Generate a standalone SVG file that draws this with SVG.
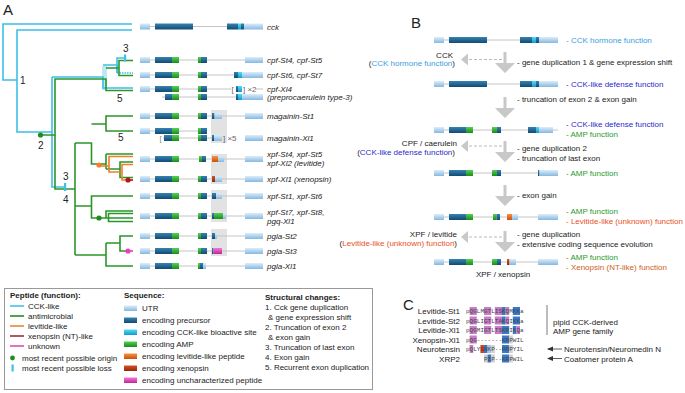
<svg xmlns="http://www.w3.org/2000/svg" width="685" height="393" viewBox="0 0 685 393">
<defs>
<linearGradient id="gU" x1="0" y1="0" x2="0" y2="1"><stop offset="0" stop-color="#dcedfa"/><stop offset="1" stop-color="#86b8e0"/></linearGradient>
<linearGradient id="gP" x1="0" y1="0" x2="0" y2="1"><stop offset="0" stop-color="#3583b4"/><stop offset="1" stop-color="#134a70"/></linearGradient>
<linearGradient id="gC" x1="0" y1="0" x2="0" y2="1"><stop offset="0" stop-color="#5ad8f8"/><stop offset="1" stop-color="#0e9cd0"/></linearGradient>
<linearGradient id="gA" x1="0" y1="0" x2="0" y2="1"><stop offset="0" stop-color="#55d055"/><stop offset="1" stop-color="#1a8c1a"/></linearGradient>
<linearGradient id="gL" x1="0" y1="0" x2="0" y2="1"><stop offset="0" stop-color="#f89040"/><stop offset="1" stop-color="#cc500c"/></linearGradient>
<linearGradient id="gX" x1="0" y1="0" x2="0" y2="1"><stop offset="0" stop-color="#d45428"/><stop offset="1" stop-color="#962608"/></linearGradient>
<linearGradient id="gM" x1="0" y1="0" x2="0" y2="1"><stop offset="0" stop-color="#f476dc"/><stop offset="1" stop-color="#c42696"/></linearGradient>
<path id="dn" d="M-1.5,0 H1.5 V11 H10 L0,21 L-10,11 H-1.5 Z" fill="#c8c8c8"/>
<g id="la"><path d="M0,0 L7,-6 L7,6 Z" fill="#c8c8c8"/><line x1="8" y1="0" x2="43" y2="0" stroke="#bbb" stroke-width="1" stroke-dasharray="3,2"/></g>
<marker id="ah" viewBox="0 0 6 6" refX="5" refY="3" markerWidth="6" markerHeight="6" markerUnits="userSpaceOnUse" orient="auto"><path d="M0,0.5 L6,3 L0,5.5 Z" fill="#333"/></marker>
</defs>
<style>
text{font-family:"Liberation Sans",Arial,sans-serif;font-size:8px;fill:#222}
.i{font-style:italic}
.b{font-weight:bold}
.big{font-size:15px}
.num{font-size:10px}
.ln{stroke:#c4c4c4;stroke-width:1;fill:none}
.U{fill:url(#gU)}.P{fill:url(#gP)}.C{fill:url(#gC)}.A{fill:url(#gA)}.L{fill:url(#gL)}.X{fill:url(#gX)}.M{fill:url(#gM)}
.sh{fill:#e2e2e2}
.cy{stroke:#3dbfe8;stroke-width:1.6;fill:none}
.gr{stroke:#2a962a;stroke-width:1.6;fill:none}
.or{stroke:#f07f2a;stroke-width:1.6;fill:none}
.dr{stroke:#b01818;stroke-width:1.6;fill:none}
.pk{stroke:#ee3cbc;stroke-width:1.6;fill:none}
.fb{fill:#3a9ee0}.fd{fill:#2b2bc8}.fg{fill:#2a9a2a}.fo{fill:#e8501e}.fx{fill:#d0601e}
.sq{font-family:"Liberation Mono","Courier New",monospace;font-size:6px;fill:#444}
.hp{fill:#c77dc7}.hb{fill:#3a78c8}.hr{fill:#e04020}.hg{fill:#d0d0d0}.hl{fill:#a8c4e8}
</style>
<rect width="685" height="393" fill="#fff"/>

<text class="big" x="3" y="15">A</text>
<text class="big" x="411" y="28">B</text>
<text class="big" x="403" y="310">C</text>

<!-- Panel A tree connectors -->
<g id="tree-connectors">
<rect x="102" y="66" width="5" height="24" fill="#bfe8f6"/>
<path class="cy" d="M132,24 H3 V80 H17"/>
<path class="cy" d="M132,30 H17 V132 H52"/>
<path class="cy" d="M52,77 V187 H65"/>
<path class="cy" d="M52,77 H103 V88 H133"/>
<path class="cy" d="M103,65 H117 V73"/>
<path class="cy" d="M117,73 V58 H125"/>
<path class="cy" d="M117,73 H133" stroke-dasharray="1.5,1"/>
<path class="gr" d="M40.5,135 H55 V79 H106 V90.5 H133"/>
<path class="gr" d="M106,68 H119 V60.5 H133 M119,68 V75.5 H133"/>
<path class="gr" d="M55,135 V189 H75"/>
<path class="gr" d="M75,143 V255"/>
<path class="gr" d="M75,143 H91.5 V164 H106"/>
<path class="gr" d="M91.5,124 H106 V116 H133 M106,124 V131 H133"/>
<path class="gr" d="M106,154 V169 M106,154 H133 M106,169 H120 V162 H133 M120,169 V177.5 H133"/>
<path class="or" d="M99,166 H109 V156.5 H133 M109,166 V172 H122 V164.5 H133 M122,172 V180 H128"/>
<path class="dr" d="M128,180 H133"/>
<path class="gr" d="M75,206 H91.5 V196 H133 M91.5,206 V218 H106 V211 H133 M106,218 H133 M108.5,218 V213.5 H133 M108.5,218 V221.5 H133"/>
<path class="gr" d="M75,255 H106 M106,243 V266 H133 M106,243 H120 V236 H133 M120,243 V251 H128"/>
<path class="pk" d="M128,251 H133"/>
<rect x="124" y="54.5" width="2.2" height="7" fill="#3dbfe8"/>
<rect x="64" y="183" width="2.2" height="8" fill="#3dbfe8"/>
<circle cx="40.5" cy="135" r="2.6" fill="#1e8c1e"/>
<circle cx="99" cy="165" r="2.6" fill="#f07f2a"/>
<circle cx="128" cy="180" r="2.6" fill="#b01818"/>
<circle cx="99" cy="218" r="2.6" fill="#1e8c1e"/>
<circle cx="128" cy="251" r="2.6" fill="#ee3cbc"/>
<text class="num" x="20" y="84">1</text>
<text class="num" x="38" y="149">2</text>
<text class="num" x="123" y="52">3</text>
<text class="num" x="63" y="180">3</text>
<text class="num" x="63" y="203">4</text>
<text class="num" x="117" y="102">5</text>
<text class="num" x="118" y="141">5</text>
</g>

<!-- shaded exon backgrounds -->
<rect class="sh" x="211" y="110" width="16" height="33"/>
<rect class="sh" x="211" y="154" width="16" height="30"/>
<rect class="sh" x="211" y="190" width="16" height="32"/>
<rect class="sh" x="211" y="229" width="16" height="27"/>

<!-- Panel A gene structures -->
<g id="gene-cck">
<line class="ln" x1="140" y1="26.5" x2="263" y2="26.5"/>
<rect class="U" x="140" y="23.5" width="10" height="6"/><rect class="P" x="155" y="23.5" width="38" height="6"/>
<rect class="P" x="227" y="23.5" width="11" height="6"/><rect class="C" x="238" y="23.5" width="3" height="6"/><rect class="P" x="241" y="23.5" width="3" height="6"/><rect class="U" x="244" y="23.5" width="19" height="6"/>
<text class="i" x="267" y="29.5">cck</text>
</g>
<g id="gene-cpf-st4">
<line class="ln" x1="140" y1="60" x2="263" y2="60"/>
<rect class="U" x="140" y="57" width="10" height="6"/><rect class="P" x="155" y="57" width="17" height="6"/><rect class="A" x="172" y="57" width="7" height="6"/>
<rect class="A" x="198" y="57" width="3" height="6"/><rect class="P" x="201" y="57" width="6" height="6"/>
<rect class="U" x="245" y="57" width="18" height="6"/>
<text class="i" x="267" y="63">cpf-St4, cpf-St5</text>
</g>
<g id="gene-cpf-st6">
<line class="ln" x1="140" y1="75" x2="263" y2="75"/>
<rect class="U" x="140" y="72" width="10" height="6"/><rect class="P" x="155" y="72" width="17" height="6"/><rect class="A" x="172" y="72" width="7" height="6"/>
<rect class="A" x="198" y="72" width="3" height="6"/><rect class="P" x="201" y="72" width="6" height="6"/>
<rect class="P" x="234" y="72" width="4" height="6"/><rect class="C" x="238" y="72" width="4" height="6"/><rect class="U" x="242" y="72" width="21" height="6"/>
<text class="i" x="267" y="78">cpf-St6, cpf-St7</text>
</g>
<g id="gene-cpf-xl4">
<line class="ln" x1="140" y1="89" x2="231" y2="89"/><line class="ln" x1="256" y1="89" x2="263" y2="89"/>
<rect class="U" x="140" y="86" width="10" height="6"/><rect class="P" x="155" y="86" width="17" height="6"/><rect class="A" x="172" y="86" width="7" height="6"/>
<rect class="A" x="198" y="86" width="3" height="6"/><rect class="P" x="201" y="86" width="6" height="6"/>
<text x="231.5" y="92" style="fill:#666">[</text>
<rect class="P" x="236" y="86" width="2" height="6"/><rect class="C" x="238" y="86" width="4" height="6"/>
<text x="243" y="92" style="fill:#666">] ×2</text>
<text class="i" x="267" y="92">cpf-Xl4</text>
</g>
<g id="gene-preprocaerulein">
<line class="ln" x1="162" y1="97" x2="263" y2="97"/>
<rect class="P" x="165" y="94" width="7" height="6"/><rect class="A" x="172" y="94" width="7" height="6"/>
<rect class="A" x="198" y="94" width="3" height="6"/><rect class="P" x="201" y="94" width="6" height="6"/>
<rect class="P" x="236" y="94" width="2" height="6"/><rect class="C" x="238" y="94" width="4" height="6"/><rect class="U" x="242" y="94" width="21" height="6"/>
<text class="i" x="267" y="100">(preprocaerulein type-3)</text>
</g>
<g id="gene-magainin-st1">
<line class="ln" x1="140" y1="116" x2="263" y2="116"/>
<rect class="U" x="140" y="113" width="10" height="6"/><rect class="P" x="155" y="113" width="17" height="6"/><rect class="A" x="172" y="113" width="7" height="6"/>
<rect class="A" x="198" y="113" width="3" height="6"/><rect class="P" x="201" y="113" width="6" height="6"/>
<rect class="P" x="212" y="113" width="2.5" height="6"/><rect class="U" x="214.5" y="113" width="7.5" height="6"/>
<rect class="U" x="245" y="113" width="18" height="6"/>
<text class="i" x="267" y="119">magainin-St1</text>
</g>
<g id="gene-magainin-xl1">
<line class="ln" x1="140" y1="131" x2="207" y2="131"/>
<rect class="U" x="140" y="128" width="10" height="6"/><rect class="P" x="155" y="128" width="17" height="6"/><rect class="A" x="172" y="128" width="7" height="6"/>
<rect class="A" x="198" y="128" width="3" height="6"/><rect class="P" x="201" y="128" width="6" height="6"/>
<line class="ln" x1="163" y1="138" x2="212" y2="138"/>
<text x="159.5" y="141" style="fill:#888">[</text>
<rect class="P" x="164" y="135" width="8" height="6"/><rect class="A" x="172" y="135" width="7" height="6"/>
<rect class="A" x="198" y="135" width="3" height="6"/><rect class="P" x="201" y="135" width="6" height="6"/>
<rect class="P" x="212" y="135" width="2" height="6"/><rect class="U" x="214" y="135" width="8" height="6"/>
<text x="223" y="141" style="fill:#666">] ×5</text>
<rect class="U" x="245" y="135" width="18" height="6"/>
<text class="i" x="267" y="141">magainin-Xl1</text>
</g>
<g id="gene-xpf-st4">
<line class="ln" x1="140" y1="159" x2="263" y2="159"/>
<rect class="U" x="140" y="156" width="10" height="6"/><rect class="P" x="155" y="156" width="17" height="6"/><rect class="A" x="172" y="156" width="7" height="6"/>
<rect class="A" x="199" y="156" width="3" height="6"/><rect class="P" x="202" y="156" width="4" height="6"/>
<rect class="L" x="212" y="156" width="6" height="6"/><rect class="U" x="218" y="156" width="6" height="6"/>
<rect class="U" x="245" y="156" width="18" height="6"/>
<text class="i" x="267" y="157">xpf-St4, xpf-St5</text>
<text class="i" x="267" y="166">xpf-Xl2 (levitide)</text>
</g>
<g id="gene-xpf-xl1">
<line class="ln" x1="140" y1="179" x2="263" y2="179"/>
<rect class="U" x="140" y="176" width="10" height="6"/><rect class="P" x="155" y="176" width="17" height="6"/><rect class="A" x="172" y="176" width="7" height="6"/>
<rect class="A" x="198" y="176" width="3" height="6"/><rect class="P" x="201" y="176" width="6" height="6"/>
<rect class="X" x="212" y="176" width="3" height="6"/><rect class="U" x="215" y="176" width="7" height="6"/>
<rect class="U" x="245" y="176" width="18" height="6"/>
<text class="i" x="267" y="182">xpf-Xl1 (xenopsin)</text>
</g>
<g id="gene-xpf-st1">
<line class="ln" x1="140" y1="196" x2="263" y2="196"/>
<rect class="U" x="140" y="193" width="10" height="6"/><rect class="P" x="155" y="193" width="17" height="6"/><rect class="A" x="172" y="193" width="7" height="6"/>
<rect class="A" x="198" y="193" width="3" height="6"/><rect class="P" x="201" y="193" width="6" height="6"/>
<rect class="P" x="212" y="193" width="4" height="6"/><rect class="U" x="216" y="193" width="6" height="6"/>
<rect class="U" x="245" y="193" width="18" height="6"/>
<text class="i" x="267" y="199">xpf-St1, xpf-St6</text>
</g>
<g id="gene-xpf-st7">
<line class="ln" x1="140" y1="216" x2="263" y2="216"/>
<rect class="U" x="140" y="213" width="10" height="6"/><rect class="P" x="155" y="213" width="17" height="6"/><rect class="A" x="172" y="213" width="7" height="6"/>
<rect class="A" x="198" y="213" width="3" height="6"/><rect class="P" x="201" y="213" width="6" height="6"/>
<rect class="P" x="212" y="213" width="2" height="6"/><rect class="A" x="214" y="213" width="9" height="6"/><rect class="U" x="223" y="213" width="3" height="6"/>
<rect class="U" x="245" y="213" width="18" height="6"/>
<text class="i" x="267" y="215">xpf-St7, xpf-St8,</text>
<text class="i" x="267" y="224">pgq-Xl1</text>
</g>
<g id="gene-pgla-st2">
<line class="ln" x1="140" y1="236" x2="263" y2="236"/>
<rect class="U" x="140" y="233" width="10" height="6"/><rect class="P" x="155" y="233" width="17" height="6"/><rect class="A" x="172" y="233" width="7" height="6"/>
<rect class="A" x="198" y="233" width="3" height="6"/><rect class="P" x="201" y="233" width="6" height="6"/>
<rect class="P" x="212" y="233" width="3" height="6"/><rect class="U" x="215" y="233" width="2" height="6"/>
<rect class="U" x="245" y="233" width="18" height="6"/>
<text class="i" x="267" y="239">pgla-St2</text>
</g>
<g id="gene-pgla-st3">
<line class="ln" x1="140" y1="251" x2="263" y2="251"/>
<rect class="U" x="140" y="248" width="10" height="6"/><rect class="P" x="155" y="248" width="17" height="6"/><rect class="A" x="172" y="248" width="7" height="6"/>
<rect class="A" x="198" y="248" width="3" height="6"/><rect class="P" x="201" y="248" width="6" height="6"/>
<rect class="P" x="212" y="248" width="1.5" height="6"/><rect class="M" x="213.5" y="248" width="8.5" height="6"/>
<rect class="U" x="245" y="248" width="18" height="6"/>
<text class="i" x="267" y="254">pgla-St3</text>
</g>
<g id="gene-pgla-xl1">
<line class="ln" x1="140" y1="266" x2="263" y2="266"/>
<rect class="U" x="140" y="263" width="10" height="6"/><rect class="P" x="155" y="263" width="17" height="6"/><rect class="A" x="172" y="263" width="7" height="6"/>
<rect class="A" x="198" y="263" width="2" height="6"/><rect class="P" x="200" y="263" width="3" height="6"/><rect class="U" x="203" y="263" width="3" height="6"/>
<rect class="U" x="245" y="263" width="18" height="6"/>
<text class="i" x="267" y="269">pgla-Xl1</text>
</g>

<!-- Legend -->
<g id="legend">
<rect x="4.5" y="288.5" width="368" height="101" fill="#fff" stroke="#999" stroke-width="1"/>
<text class="b" x="10" y="298">Peptide (function):</text>
<line x1="10" y1="306" x2="24" y2="306" stroke="#5bc8e8" stroke-width="1.8"/><text x="28" y="309">CCK-like</text>
<line x1="10" y1="316" x2="24" y2="316" stroke="#3a9a3a" stroke-width="1.8"/><text x="28" y="319">antimicrobial</text>
<line x1="10" y1="326" x2="24" y2="326" stroke="#f09050" stroke-width="1.8"/><text x="28" y="329">levitide-like</text>
<line x1="10" y1="336" x2="24" y2="336" stroke="#b04050" stroke-width="1.8"/><text x="28" y="339">xenopsin (NT)-like</text>
<line x1="10" y1="346" x2="24" y2="346" stroke="#e060c0" stroke-width="1.8"/><text x="28" y="349">unknown</text>
<circle cx="12.5" cy="358" r="2.4" fill="#1e8c1e"/><text x="22" y="361">most recent possible origin</text>
<rect x="11.5" y="364.5" width="2.2" height="7" fill="#3dbfe8"/><text x="22" y="371">most recent possible loss</text>
<text class="b" x="124" y="298">Sequence:</text>
<rect class="U" x="124" y="305.5" width="13" height="5.5"/><text x="142" y="311">UTR</text>
<rect class="P" x="124" y="317.5" width="13" height="5.5"/><text x="142" y="323">encoding precursor</text>
<rect class="C" x="124" y="329.5" width="13" height="5.5"/><text x="142" y="335">encoding CCK-like bioactive site</text>
<rect class="A" x="124" y="341.5" width="13" height="5.5"/><text x="142" y="347">encoding AMP</text>
<rect class="L" x="124" y="353.5" width="13" height="5.5"/><text x="142" y="359">encoding levitide-like peptide</text>
<rect class="X" x="124" y="365.5" width="13" height="5.5"/><text x="142" y="371">encoding xenopsin</text>
<rect class="M" x="124" y="377.5" width="13" height="5.5"/><text x="142" y="383">encoding uncharacterized peptide</text>
<text class="b" x="265" y="300">Structural changes:</text>
<text x="265" y="310">1. Cck gene duplication</text>
<text x="268" y="320">&amp; gene expression shift</text>
<text x="265" y="330">2. Truncation of exon 2</text>
<text x="268" y="340">&amp; exon gain</text>
<text x="265" y="350">3. Truncation of last exon</text>
<text x="265" y="360">4. Exon gain</text>
<text x="265" y="370">5. Recurrent exon duplication</text>
</g>

<!-- Panel B -->
<g id="b-arrows">
<use href="#dn" x="505" y="52"/>
<use href="#dn" x="505" y="97"/>
<use href="#dn" x="505" y="141"/>
<use href="#dn" x="505" y="185"/>
<use href="#dn" x="505" y="231"/>
<use href="#la" x="461" y="59.5"/>
<use href="#la" x="461" y="146"/>
<use href="#la" x="461" y="237"/>
</g>
<g id="b-row1">
<line class="ln" x1="434" y1="40" x2="558" y2="40"/>
<rect class="U" x="434" y="37" width="10" height="6"/><rect class="P" x="449" y="37" width="38" height="6"/>
<rect class="P" x="520" y="37" width="12" height="6"/><rect class="C" x="532" y="37" width="4" height="6"/><rect class="P" x="536" y="37" width="3" height="6"/><rect class="U" x="539" y="37" width="19" height="6"/>
<text class="fb" x="566" y="43">- CCK hormone function</text>
</g>
<g id="b-step1">
<text x="453" y="58" text-anchor="end">CCK</text>
<text x="455" y="66" text-anchor="end">(<tspan class="fb">CCK hormone function</tspan>)</text>
<text x="517" y="65">- gene duplication 1 &amp; gene expression shift</text>
</g>
<g id="b-row2">
<line class="ln" x1="434" y1="84" x2="558" y2="84"/>
<rect class="U" x="434" y="81" width="10" height="6"/><rect class="P" x="449" y="81" width="38" height="6"/>
<rect class="P" x="520" y="81" width="12" height="6"/><rect class="C" x="532" y="81" width="4" height="6"/><rect class="P" x="536" y="81" width="3" height="6"/><rect class="U" x="539" y="81" width="19" height="6"/>
<text class="fd" x="566" y="87">- CCK-like defense function</text>
</g>
<g id="b-step2">
<text x="517" y="102">- truncation of exon 2 &amp; exon gain</text>
</g>
<g id="b-row3">
<line class="ln" x1="434" y1="130" x2="558" y2="130"/>
<rect class="U" x="434" y="127" width="10" height="6"/><rect class="P" x="449" y="127" width="17" height="6"/><rect class="A" x="466" y="127" width="7" height="6"/>
<rect class="A" x="492" y="127" width="5" height="6"/><rect class="P" x="497" y="127" width="4" height="6"/>
<rect class="P" x="528" y="127" width="8" height="6"/><rect class="C" x="536" y="127" width="3" height="6"/><rect class="U" x="539" y="127" width="14" height="6"/>
<text class="fd" x="566" y="127">- CCK-like defense function</text>
<text class="fg" x="566" y="137">- AMP function</text>
</g>
<g id="b-step3">
<text x="457" y="146" text-anchor="end">CPF / caerulein</text>
<text x="455" y="155" text-anchor="end">(<tspan class="fd">CCK-like defense function</tspan>)</text>
<text x="517" y="151">- gene duplication 2</text>
<text x="517" y="161">- truncation of last exon</text>
</g>
<g id="b-row4">
<line class="ln" x1="434" y1="173" x2="558" y2="173"/>
<rect class="U" x="434" y="170" width="10" height="6"/><rect class="P" x="449" y="170" width="17" height="6"/><rect class="A" x="466" y="170" width="7" height="6"/>
<rect class="A" x="492" y="170" width="5" height="6"/><rect class="P" x="497" y="170" width="4" height="6"/>
<rect class="P" x="538" y="170" width="1.5" height="6"/><rect class="U" x="539.5" y="170" width="18.5" height="6"/>
<text class="fg" x="566" y="176">- AMP function</text>
</g>
<g id="b-step4">
<text x="517" y="198">- exon gain</text>
</g>
<g id="b-row5">
<line class="ln" x1="434" y1="217" x2="558" y2="217"/>
<rect class="U" x="434" y="214" width="10" height="6"/><rect class="P" x="449" y="214" width="17" height="6"/><rect class="A" x="466" y="214" width="7" height="6"/>
<rect class="A" x="493" y="214" width="3.5" height="6"/><rect class="P" x="496.5" y="214" width="3.5" height="6"/>
<rect class="L" x="507" y="214" width="5" height="6"/><rect class="U" x="512" y="214" width="6" height="6"/>
<rect class="U" x="538" y="214" width="20" height="6"/>
<text class="fg" x="566" y="214">- AMP function</text>
<text class="fo" x="566" y="224">- Levitide-like (unknown) function</text>
</g>
<g id="b-step5">
<text x="457" y="237" text-anchor="end">XPF / levitide</text>
<text x="457" y="246" text-anchor="end">(<tspan class="fo">Levitide-like (unknown) function</tspan>)</text>
<text x="517" y="237">- gene duplication</text>
<text x="517" y="247">- extensive coding sequence evolution</text>
</g>
<g id="b-row6">
<line class="ln" x1="434" y1="262" x2="558" y2="262"/>
<rect class="U" x="434" y="259" width="10" height="6"/><rect class="P" x="449" y="259" width="17" height="6"/><rect class="A" x="466" y="259" width="7" height="6"/>
<rect class="A" x="492" y="259" width="5" height="6"/><rect class="P" x="497" y="259" width="4" height="6"/>
<rect class="X" x="507" y="259" width="2.5" height="6"/><rect class="U" x="509.5" y="259" width="6.5" height="6"/>
<rect class="U" x="538" y="259" width="20" height="6"/>
<text class="fg" x="566" y="260">- AMP function</text>
<text class="fx" x="566" y="270">- Xenopsin (NT-like) function</text>
<text x="503" y="277" text-anchor="middle">XPF / xenopsin</text>
</g>

<!-- Panel C -->
<g id="c-alignment">
<g id="c-highlights">
<rect class="hp" x="469.6" y="307" width="7.2" height="8"/><rect class="hp" x="484" y="307" width="7.2" height="8"/><rect class="hp" x="494.8" y="307" width="7.2" height="8"/><rect class="hb" x="502" y="307" width="3.6" height="8"/><rect class="hp" x="505.6" y="307" width="3.6" height="8"/><rect class="hb" x="512.8" y="307" width="7.2" height="8"/>
<rect class="hp" x="469.6" y="316.5" width="7.2" height="8"/><rect class="hp" x="484" y="316.5" width="7.2" height="8"/><rect class="hp" x="494.8" y="316.5" width="7.2" height="8"/><rect class="hb" x="502" y="316.5" width="3.6" height="8"/><rect class="hp" x="505.6" y="316.5" width="3.6" height="8"/><rect class="hb" x="512.8" y="316.5" width="7.2" height="8"/>
<rect class="hp" x="469.6" y="326" width="7.2" height="8"/><rect class="hp" x="484" y="326" width="7.2" height="8"/><rect class="hp" x="494.8" y="326" width="7.2" height="8"/><rect class="hb" x="502" y="326" width="7.2" height="8"/><rect class="hb" x="512.8" y="326" width="3.6" height="8"/><rect class="hp" x="516.4" y="326" width="3.6" height="8"/>
<rect class="hp" x="469.6" y="335.5" width="7.2" height="8"/><rect class="hb" x="502" y="335.5" width="7.2" height="8"/><rect class="hg" x="509.2" y="335.5" width="3.6" height="8"/>
<rect class="hp" x="469.6" y="345" width="3.6" height="8"/><rect class="hr" x="480.4" y="345" width="3.6" height="8"/><rect class="hb" x="484" y="345" width="3.6" height="8"/><rect class="hl" x="487.6" y="345" width="3.6" height="8"/><rect class="hg" x="491.2" y="345" width="3.6" height="8"/><rect class="hb" x="502" y="345" width="7.2" height="8"/><rect class="hg" x="509.2" y="345" width="3.6" height="8"/>
<rect class="hg" x="484" y="354.5" width="3.6" height="8"/><rect class="hb" x="487.6" y="354.5" width="3.6" height="8"/><rect class="hg" x="491.2" y="354.5" width="3.6" height="8"/><rect class="hb" x="502" y="354.5" width="7.2" height="8"/><rect class="hg" x="509.2" y="354.5" width="3.6" height="8"/>
</g>
<text x="460" y="314" text-anchor="end">Levitide-St1</text>
<text x="460" y="323.5" text-anchor="end">Levitide-St2</text>
<text x="460" y="333" text-anchor="end">Levitide-Xl1</text>
<text x="460" y="342.5" text-anchor="end">Xenopsin-Xl1</text>
<text x="460" y="352" text-anchor="end">Neurotensin</text>
<text x="460" y="361.5" text-anchor="end">XRP2</text>
<text class="sq" x="466" y="313.2" textLength="57.6">pQGLMGTLISKQMKKa</text>
<text class="sq" x="466" y="322.7" textLength="57.6">pQGLIGTLTAKQIKKa</text>
<text class="sq" x="466" y="332.2" textLength="57.6">pQGMIGTLTSKRIKQa</text>
<text class="sq" x="466" y="341.7" textLength="57.6">pQG-------KRPWIL</text>
<text class="sq" x="466" y="351.2" textLength="57.6">pQLYENKP--RRPYIL</text>
<text class="sq" x="484" y="360.7" textLength="39.6">PIP--KRPWIL</text>
<line x1="547" y1="305" x2="547" y2="335" stroke="#555" stroke-width="0.8"/>
<text x="553" y="325">pipid CCK-derived</text>
<text x="553" y="334">AMP gene family</text>
<line x1="562" y1="349" x2="548" y2="349" stroke="#333" stroke-width="0.8" marker-end="url(#ah)"/>
<text x="564" y="352">Neurotensin/Neuromedin N</text>
<line x1="562" y1="358.5" x2="548" y2="358.5" stroke="#333" stroke-width="0.8" marker-end="url(#ah)"/>
<text x="564" y="361.5">Coatomer protein A</text>
</g>
</svg>
